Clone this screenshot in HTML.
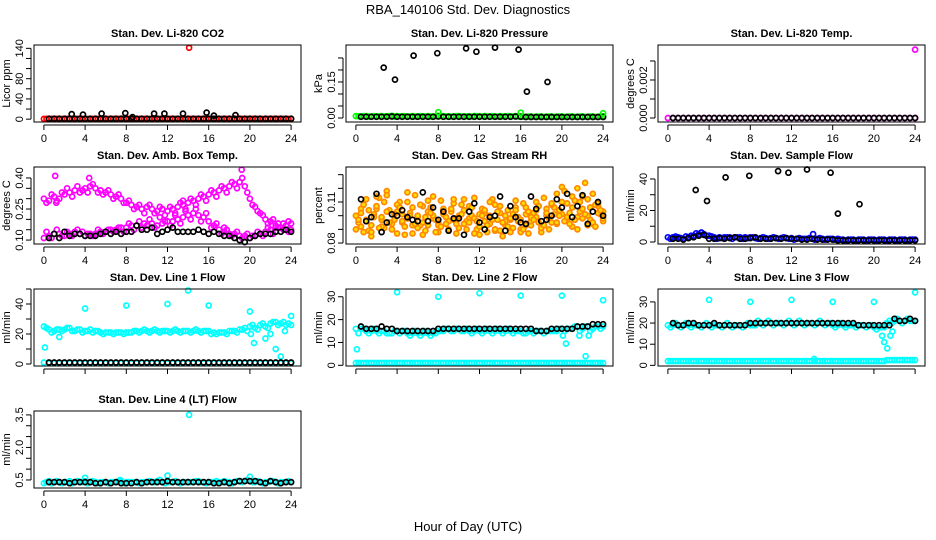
<!DOCTYPE html>
<html><head><meta charset="utf-8">
<style>
html,body{margin:0;padding:0;background:#fff;}
svg{display:block;font-family:"Liberation Sans",Arial,sans-serif;}
</style></head>
<body>
<svg id="chart" width="936" height="540" viewBox="0 0 936 540">
<text x="468" y="14" font-size="13" text-anchor="middle">RBA_140106  Std. Dev. Diagnostics</text>
<text x="468" y="531" font-size="13" text-anchor="middle">Hour of Day (UTC)</text>
</svg>
<script>
// ---- shared hour arrays ----
const hoursA = [0,0.5,1,1.5,2,2.5,3,3.5,4,4.5,5,5.5,6,6.5,7,7.5,8,8.5,9,9.5,10,10.5,11,11.5,12,12.5,13,13.5,14,14.5,15,15.5,16,16.5,17,17.5,18,18.5,19,19.5,20,20.5,21,21.5,22,22.5,23,23.5,24];
const hoursB = [0.25,0.75,1.25,1.75,2.25,2.75,3.25,3.75,4.25,4.75,5.25,5.75,6.25,6.75,7.25,7.75,8.25,8.75,9.25,9.75,10.25,10.75,11.25,11.75,12.25,12.75,13.25,13.75,14.25,14.75,15.25,15.75,16.25,16.75,17.25,17.75,18.25,18.75,19.25,19.75,20.25,20.75,21.25,21.75,22.25,22.75,23.25,23.75];
const hoursK = [0.5,1,1.5,2,2.5,3,3.5,4,4.5,5,5.5,6,6.5,7,7.5,8,8.5,9,9.5,10,10.5,11,11.5,12,12.5,13,13.5,14,14.5,15,15.5,16,16.5,17,17.5,18,18.5,19,19.5,20,20.5,21,21.5,22,22.5,23,23.5,24];
const xTicks = [0,4,8,12,16,20,24];

// ---- CO2 ----
const co2Red = [0.5,0.4,0.6,0.5,0.5,0.7,0.5,0.4,0.6,0.5,0.5,0.6,0.4,0.5,0.5,0.6,0.5,0.5,0.4,0.6,0.5,0.5,0.6,0.5,0.4,0.5,0.6,0.5,0.5,0.4,0.5,0.6,0.5,0.5,0.4,0.6,0.5,0.5,0.5,0.4,0.6,0.5,0.5,0.4,0.5,0.6,0.5,0.5,0.5];
const co2RedB = [0.6,0.5,0.5,0.4,0.6,0.5,0.5,0.5,0.4,0.6,0.5,0.5,0.4,0.5,0.6,0.5,0.5,0.4,0.6,0.5,0.5,0.4,0.5,0.6,0.5,0.5,0.4,0.5,0.5,0.6,0.5,0.4,0.5,0.5,0.6,0.5,0.4,0.5,0.5,0.6,0.5,0.5,0.4,0.5,0.6,0.5,0.5,0.4];
const co2Black = [1,1,1,1,1,1,1,1,1,1,1,1,1,1,1,1,1,1,1,1,1,1,1,1,1,1,1,1,1,1,1,1,1,1,1,1,1,1,1,1,1,1,1,1,1,1,1,1];
const co2SpikeX = [2.7,3.8,5.6,7.9,8.6,10.7,11.7,13.5,15.8,16.5,18.6];
const co2SpikeY = [10,9,11,12,4,11,11,11,13,7,8];
const co2OutX = [14.1];
const co2OutY = [141];

// ---- Pressure ----
const prsGreen = [0.008,0.007,0.008,0.006,0.007,0.008,0.007,0.009,0.008,0.007,0.006,0.008,0.007,0.007,0.008,0.006,0.009,0.008,0.007,0.007,0.008,0.006,0.007,0.008,0.007,0.008,0.007,0.006,0.008,0.007,0.007,0.008,0.006,0.005,0.006,0.005,0.006,0.005,0.006,0.005,0.006,0.005,0.006,0.005,0.006,0.005,0.006,0.005,0.007];
const prsGreenB = [0.007,0.008,0.006,0.008,0.007,0.007,0.008,0.006,0.007,0.008,0.007,0.006,0.008,0.007,0.006,0.007,0.008,0.007,0.006,0.008,0.007,0.007,0.006,0.008,0.007,0.007,0.008,0.006,0.007,0.008,0.007,0.006,0.005,0.006,0.005,0.006,0.005,0.006,0.005,0.006,0.005,0.006,0.005,0.006,0.005,0.006,0.005,0.006];
const prsBlack = [0.005,0.005,0.005,0.005,0.005,0.005,0.006,0.005,0.005,0.005,0.005,0.005,0.005,0.005,0.005,0.006,0.005,0.005,0.005,0.005,0.005,0.005,0.005,0.005,0.005,0.005,0.005,0.005,0.005,0.005,0.006,0.005,0.004,0.004,0.004,0.004,0.004,0.004,0.004,0.004,0.004,0.004,0.004,0.004,0.004,0.004,0.004,0.004];
const prsSpikeX = [2.7,3.8,5.6,7.9,10.7,11.7,13.5,15.8,16.6,18.6];
const prsSpikeY = [0.21,0.16,0.26,0.27,0.29,0.276,0.293,0.285,0.11,0.15];
const prsOutX = [8,16,24];
const prsOutY = [0.024,0.022,0.02];

// ---- Li-820 Temp ----
const tmpMag = [0,0,0,0,0,0,0,0,0,0,0,0,0,0,0,0,0,0,0,0,0,0,0,0,0,0,0,0,0,0,0,0,0,0,0,0,0,0,0,0,0,0,0,0,0,0,0,0,0];
const tmpBlack = [0,0,0,0,0,0,0,0,0,0,0,0,0,0,0,0,0,0,0,0,0,0,0,0,0,0,0,0,0,0,0,0,0,0,0,0,0,0,0,0,0,0,0,0,0,0,0,0];
const tmpOutX = [24];
const tmpOutY = [0.0036];

// ---- Amb Box Temp ----
const ambUpA = [0.30,0.29,0.31,0.30,0.32,0.33,0.34,0.33,0.35,0.36,0.35,0.34,0.33,0.32,0.31,0.30,0.28,0.27,0.26,0.25,0.26,0.25,0.24,0.25,0.24,0.25,0.26,0.27,0.28,0.29,0.30,0.31,0.32,0.33,0.34,0.35,0.36,0.37,0.38,0.36,0.30,0.26,0.23,0.20,0.19,0.17,0.16,0.15,0.15];
const ambUpB = [0.28,0.32,0.29,0.33,0.35,0.31,0.36,0.34,0.33,0.37,0.33,0.32,0.34,0.30,0.32,0.28,0.29,0.25,0.27,0.23,0.27,0.23,0.26,0.22,0.26,0.23,0.28,0.25,0.30,0.27,0.32,0.29,0.34,0.31,0.36,0.33,0.38,0.35,0.40,0.33,0.27,0.24,0.22,0.18,0.20,0.16,0.18,0.14];
const ambLoA = [0.11,0.12,0.13,0.13,0.12,0.13,0.14,0.13,0.12,0.13,0.13,0.14,0.14,0.15,0.15,0.16,0.16,0.17,0.17,0.16,0.17,0.18,0.17,0.18,0.19,0.19,0.20,0.21,0.22,0.23,0.22,0.21,0.19,0.17,0.15,0.14,0.13,0.13,0.12,0.12,0.11,0.12,0.13,0.14,0.15,0.16,0.16,0.17,0.18];
const ambLoB = [0.14,0.11,0.15,0.12,0.14,0.12,0.15,0.14,0.13,0.12,0.15,0.13,0.15,0.14,0.16,0.14,0.18,0.15,0.19,0.18,0.20,0.16,0.21,0.19,0.17,0.22,0.18,0.24,0.20,0.25,0.19,0.23,0.16,0.18,0.13,0.15,0.12,0.14,0.11,0.13,0.12,0.14,0.12,0.16,0.13,0.18,0.15,0.19];
const ambBlack = [0.11,0.13,0.11,0.14,0.12,0.13,0.13,0.12,0.12,0.12,0.13,0.14,0.13,0.14,0.13,0.14,0.14,0.17,0.15,0.15,0.16,0.13,0.14,0.15,0.16,0.14,0.14,0.14,0.14,0.15,0.14,0.13,0.14,0.13,0.12,0.12,0.11,0.10,0.09,0.11,0.12,0.13,0.13,0.13,0.14,0.14,0.15,0.14];
const ambOutX = [1.1,1.2,4.4,13.5,19.2,17.5];
const ambOutY = [0.41,0.28,0.40,0.29,0.44,0.16];

// ---- Gas Stream RH ----
const rhA = [0.100,0.092,0.112,0.085,0.105,0.097,0.118,0.090,0.103,0.095,0.110,0.087,0.099,0.107,0.093,0.114,0.088,0.101,0.096,0.109,0.091,0.104,0.098,0.113,0.086,0.102,0.094,0.108,0.089,0.100,0.097,0.111,0.090,0.106,0.093,0.099,0.088,0.105,0.095,0.116,0.101,0.109,0.092,0.120,0.098,0.112,0.094,0.107,0.103];
const rhB = [0.095,0.108,0.089,0.101,0.113,0.091,0.104,0.097,0.110,0.086,0.102,0.115,0.093,0.099,0.106,0.088,0.111,0.094,0.103,0.087,0.108,0.096,0.100,0.090,0.105,0.093,0.112,0.097,0.085,0.104,0.091,0.099,0.109,0.087,0.102,0.095,0.113,0.090,0.106,0.100,0.118,0.094,0.111,0.103,0.124,0.097,0.108,0.101];
const rhC = [0.105,0.097,0.088,0.114,0.092,0.103,0.090,0.108,0.096,0.117,0.093,0.100,0.086,0.111,0.098,0.095,0.104,0.089,0.112,0.099,0.094,0.107,0.087,0.101,0.096,0.110,0.089,0.102,0.093,0.098,0.106,0.088,0.101,0.096,0.110,0.091,0.100,0.108,0.094,0.121,0.097,0.114,0.099,0.105,0.093,0.116,0.102,0.096];
const rhD = [0.090,0.102,0.096,0.093,0.107,0.099,0.115,0.094,0.087,0.101,0.098,0.106,0.091,0.095,0.103,0.100,0.093,0.105,0.090,0.097,0.100,0.112,0.095,0.098,0.092,0.104,0.100,0.090,0.107,0.096,0.088,0.104,0.097,0.093,0.099,0.104,0.091,0.102,0.109,0.095,0.110,0.099,0.106,0.090,0.114,0.100,0.095,0.109,0.098];
const rhE = [0.097,0.088,0.104,0.099,0.091,0.110,0.095,0.101,0.106,0.092,0.100,0.094,0.108,0.089,0.102,0.097,0.092,0.099,0.105,0.094,0.101,0.090,0.106,0.096,0.100,0.088,0.097,0.103,0.095,0.092,0.101,0.096,0.090,0.103,0.097,0.107,0.093,0.098,0.101,0.104,0.096,0.102,0.097,0.110,0.101,0.106,0.092,0.104];
const rhBlack = [0.112,0.096,0.099,0.116,0.088,0.095,0.101,0.100,0.104,0.099,0.097,0.096,0.117,0.096,0.106,0.097,0.103,0.089,0.098,0.098,0.086,0.103,0.109,0.095,0.090,0.099,0.100,0.114,0.089,0.107,0.099,0.095,0.094,0.114,0.105,0.096,0.097,0.100,0.112,0.106,0.116,0.099,0.107,0.115,0.094,0.103,0.110,0.100];

// ---- Sample Flow ----
const sfBlueA = [3,3,3,2,3,4,5,5,4,3,3,3,3,3,3,3,3,2.5,2.5,2.5,2.5,2.5,2.5,2.5,2.5,2,2,2,2,2,2,2,2,2,1.5,1.5,1.5,1.5,1.5,1.5,1.5,1.5,1.5,1.5,1.5,1.5,1.5,1.5,1.5];
const sfBlueB = [2,3.5,2.5,3.5,4,5.5,6,4,3.5,2,2.5,3,2,3,2,2.5,3,2,3,2,3,2,3,2,1.5,2.5,2,2.5,1.5,2.5,1.5,2,1.5,1.5,1,1.5,1,1.5,1,1.5,1,1.5,1,1.5,1,1.5,1,1.5];
const sfBlack = [2,2,1.5,2.5,3,4,4.5,2,2,2.5,2,2.5,3,2,2,2.5,3,2,2,2,2.5,2,2.5,2,2,1.5,1.5,2,1.5,1.5,1.5,1.5,1,1,1,1,1,1,1,1,1,1,1,1,1,1,1,1];
const sfSpikeX = [2.7,3.8,5.6,7.9,10.7,11.7,13.5,15.8,16.5,18.6];
const sfSpikeY = [33,26,41,42,45,44,46,44,18,24];
const sfOutX = [14.1];
const sfOutY = [5];

// ---- Line 1 Flow ----
const l1A = [25,23,22,23,23,24,22,23,22,23,22,21,21,21,21,21,21,21,22,22,22,22,22,22,22,22,22,22,22,22,22,22,22,21,21,21,22,22,23,24,25,24,26,25,27,28,27,26,26];
const l1B = [24,21,23,22,24,22,23,21,22,21,22,20,21,20,21,20,21,22,21,23,21,23,21,22,21,23,21,22,21,23,21,22,20,20,21,20,22,21,23,22,26,23,27,24,28,26,28,27];
const l1Low = [1,0.5,0.5,0.5,0.5,0.5,0.5,0.5,0.5,0.5,0.5,0.5,0.5,0.5,0.5,0.5,0.5,0.5,0.5,0.5,0.5,0.5,0.5,0.5,0.5,0.5,0.5,0.5,0.5,0.5,0.5,0.5,0.5,0.5,0.5,0.5,0.5,0.5,0.5,0.5,0.5,0.5,0.5,0.5,0.5,0.5,0.5,0.5,0.5];
const l1Black = [1,1,1,1,1,1,1,1,1,1,1,1,1,1,1,1,1,1,1,1,1,1,1,1,1,1,1,1,1,1,1,1,1,1,1,1,1,1,1,1,1,1,1,1,1,1,1,1];
const l1OutX = [0.1,1.5,4,8,12,14,16,20,20.1,20.4,21.5,22,22.5,23,23.4,24];
const l1OutY = [11,18,37,39,40,49,39,35,20,14,17,20,10,5,22,32];

// ---- Line 2 Flow ----
const l2A = [16,16,15,15,15,15,14,14,15,15,14,14,14,14,14,14,15,15,16,15,16,15,15,15,15,15,15,15,15,15,15,15,15,14,15,15,15,15,15,15,16,16,16,17,16,17,16,17,17];
const l2B = [14,16,14,16,14,15,14,15,14,15,13,15,13,15,13,14,15,16,15,16,15,16,14,16,14,16,14,16,14,16,14,15,14,15,14,15,14,15,15,16,15,16,17,15,17,15,17,16];
const l2Low = [1,1,1,1,1,1,1,1,1,1,1,1,1,1,1,1,1,1,1,1,1,1,1,1,1,1,1,1,1,1,1,1,1,1,1,1,1,1,1,1,1,1,1,1,1,1,1,1,1];
const l2LowB = [1,1,1,1,1,1,1,1,1,1,1,1,1,1,1,1,1,1,1,1,1,1,1,1,1,1,1,1,1,1,1,1,1,1,1,1,1,1,1,1,1,1,1,1,1,1,1,1];
const l2Black = [17,16,16,16,17,16,16,15,15,15,15,15,15,15,15,16,16,16,16,16,16,16,16,16,16,16,16,16,16,16,16,16,16,16,15,15,15,16,16,16,16,16,17,17,17,18,18,18];
const l2OutX = [0.1,4,8,12,16,20,20.1,20.4,21.7,22.3,22.6,24];
const l2OutY = [7,32,30,31.5,30.5,30.5,13,9.5,13,4,13,28.5];

// ---- Line 3 Flow ----
const l3A = [19,19,19,19,19,19,19,19,19,19,19,19,19,19,19,19,19,19,20,20,20,20,20,20,20,20,20,20,20,20,20,20,19,19,19,19,19,19,19,19,18,18,18,21,21,21,21,21,21];
const l3B = [18,20,18,20,18,19,18,20,18,19,18,20,18,19,18,20,19,21,19,21,19,20,19,21,19,21,19,20,19,21,19,20,18,20,18,19,18,19,18,19,17,18,20,20,22,20,22,21];
const l3Low = [2,2,2,2,2,2,2,2,2,2,2,2,2,2,2,2,2,2,2,2,2,2,2,2,2,2,2,2,2,2,2,2,2,2,2,2,2,2,2,2,2,2,2,2.5,2.5,2.5,2.5,2.5,2.5];
const l3LowB = [2,2,2,2,2,2,2,2,2,2,2,2,2,2,2,2,2,2,2,2,2,2,2,2,2,2,2,2,2,2,2,2,2,2,2,2,2,2,2,2,2,2,2.5,2.5,2.5,2.5,2.5,2.5];
const l3Black = [20,19,19,20,20,19,19,19,20,19,19,19,19,19,19,20,20,20,20,20,20,20,20,20,20,20,20,20,20,20,20,20,20,20,20,20,19,19,19,19,19,19,19,22,21,21,22,21];
const l3OutX = [4,8,12,16,20,24,14.2,20.8,21,21.3,21.6,21.8];
const l3OutY = [31,30,31,30,30,34.5,3,14,11,8,14,16];

// ---- Line 4 Flow ----
const l4A = [0.35,0.45,0.4,0.4,0.4,0.45,0.4,0.4,0.45,0.4,0.4,0.4,0.4,0.4,0.4,0.45,0.4,0.4,0.4,0.4,0.4,0.4,0.45,0.4,0.4,0.4,0.4,0.4,0.4,0.4,0.45,0.4,0.4,0.4,0.4,0.45,0.4,0.4,0.45,0.45,0.45,0.4,0.4,0.4,0.45,0.4,0.4,0.4,0.4];
const l4B = [0.4,0.35,0.45,0.35,0.4,0.35,0.45,0.4,0.35,0.45,0.35,0.4,0.35,0.4,0.45,0.35,0.4,0.4,0.35,0.4,0.45,0.4,0.5,0.35,0.4,0.45,0.35,0.4,0.4,0.45,0.4,0.35,0.4,0.45,0.4,0.4,0.35,0.45,0.4,0.5,0.4,0.45,0.35,0.4,0.45,0.35,0.4,0.45];
const l4Black = [0.4,0.4,0.4,0.4,0.35,0.4,0.4,0.4,0.4,0.35,0.35,0.4,0.35,0.4,0.35,0.35,0.35,0.4,0.35,0.4,0.4,0.4,0.4,0.45,0.4,0.4,0.4,0.4,0.4,0.4,0.4,0.4,0.35,0.35,0.4,0.35,0.4,0.45,0.45,0.45,0.45,0.4,0.35,0.45,0.4,0.35,0.4,0.4];
const l4OutX = [14.1,12,20,4,7.4];
const l4OutY = [3.5,0.7,0.65,0.6,0.5];

// ---------- rendering ----------
const NS = 'http://www.w3.org/2000/svg';
const svg = document.getElementById('chart');
const BOX_W = 267, BOX_H = 77;
const XMIN = -0.96, XMAX = 24.96;

function mk(tag, attrs, parent){
  const e = document.createElementNS(NS, tag);
  for (const k in attrs) e.setAttribute(k, attrs[k]);
  (parent || svg).appendChild(e);
  return e;
}

function panel(cfg){
  const g = mk('g', {});
  
  
  const L = cfg.left, T = cfg.top;
  const sx = v => L + (v - XMIN) / (XMAX - XMIN) * BOX_W;
  const sy = v => T + BOX_H - (v - cfg.ylim[0]) / (cfg.ylim[1] - cfg.ylim[0]) * BOX_H;

  const t = mk('text', {x: L + BOX_W/2, y: T - 8, 'font-size': 11, 'font-weight': 'bold', 'text-anchor': 'middle'}, g);
  t.textContent = cfg.title;
  
  

  const yl = mk('text', {x: 0, y: 0, 'font-size': 11, 'text-anchor': 'middle', transform: `translate(${L-24},${T+BOX_H/2}) rotate(-90)`}, g);
  yl.textContent = cfg.ylab;
  
  

  cfg.series.forEach(s => {
    const sg = mk('g', {fill: s.fill || 'none', stroke: s.color, 'stroke-width': 1.7}, g);
    
    
    s.x.forEach((xv, i) => {
      const c = mk('circle', {cx: sx(xv).toFixed(1), cy: sy(s.y[i]).toFixed(1), r: 2.5}, sg);
      
      
    });
  });

  const box = mk('rect', {x: L, y: T, width: BOX_W, height: BOX_H, fill: 'none', stroke: '#000', 'stroke-width': 1}, g);
  
  

  const xa = mk('g', {}, g);
  
  
  const xb = T + BOX_H;
  mk('line', {x1: sx(xTicks[0]), x2: sx(xTicks[xTicks.length-1]), y1: xb + 3, y2: xb + 3, stroke: '#000'}, xa);
  xTicks.forEach(v => {
    mk('line', {x1: sx(v), x2: sx(v), y1: xb + 3, y2: xb + 8, stroke: '#000'}, xa);
    if (cfg.xlabels) {
      const tl = mk('text', {x: sx(v), y: xb + 20, 'font-size': 11, 'text-anchor': 'middle'}, xa);
      tl.textContent = v;
      
      
    }
  });
  const ya = mk('g', {}, g);
  
  
  mk('line', {x1: L - 3, x2: L - 3, y1: sy(cfg.yticks[0]), y2: sy(cfg.yticks[cfg.yticks.length-1]), stroke: '#000'}, ya);
  cfg.yticks.forEach(v => {
    mk('line', {x1: L - 8, x2: L - 3, y1: sy(v), y2: sy(v), stroke: '#000'}, ya);
  });
  cfg.ylabels.forEach((lab, i) => {
    const yy = sy(cfg.ylabelVals[i]);
    const tl = mk('text', {x: 0, y: 0, 'font-size': 11, 'text-anchor': 'middle', transform: `translate(${L-11},${yy}) rotate(-90)`}, ya);
    tl.textContent = lab;
    
    
  });
}

const C1 = 34, C2 = 346, C3 = 658;
const R1 = 45, R2 = 167, R3 = 289, R4 = 411;
const BLK = '#000', CY = '#00ffff';

panel({name:'panel-co2', left:C1, top:R1, title:'Stan. Dev. Li-820 CO2', ylab:'Licor ppm', ylim:[-5.6,146.6],
  yticks:[0,20,40,60,80,100,120,140], ylabels:['0','40','80','140'], ylabelVals:[0,40,80,140], xlabels:true,
  series:[
    {name:'co2-red', x:hoursA, y:co2Red, color:'#ff0000'},
    {name:'co2-red-b', x:hoursB, y:co2RedB, color:'#ff0000'},
    {name:'co2-black', x:hoursK, y:co2Black, color:BLK},
    {name:'co2-black-spikes', x:co2SpikeX, y:co2SpikeY, color:BLK},
    {name:'co2-red-outlier', x:co2OutX, y:co2OutY, color:'#ff0000'}]});

panel({name:'panel-pressure', left:C2, top:R1, title:'Stan. Dev. Li-820 Pressure', ylab:'kPa', ylim:[-0.0167,0.304],
  yticks:[0,0.05,0.10,0.15,0.20,0.25], ylabels:['0.00','0.15'], ylabelVals:[0,0.15], xlabels:true,
  series:[
    {name:'pressure-green', x:hoursA, y:prsGreen, color:'#00ff00'},
    {name:'pressure-green-b', x:hoursB, y:prsGreenB, color:'#00ff00'},
    {name:'pressure-black', x:hoursK, y:prsBlack, color:BLK},
    {name:'pressure-green-outliers', x:prsOutX, y:prsOutY, color:'#00ff00'},
    {name:'pressure-black-spikes', x:prsSpikeX, y:prsSpikeY, color:BLK}]});

panel({name:'panel-li820-temp', left:C3, top:R1, title:'Stan. Dev. Li-820 Temp.', ylab:'degrees C', ylim:[-0.00021,0.00384],
  yticks:[0,0.001,0.002,0.003], ylabels:['0.000','0.002'], ylabelVals:[0,0.002], xlabels:true,
  series:[
    {name:'temp-magenta', x:hoursA, y:tmpMag, color:'#ff00ff'},
    {name:'temp-black', x:hoursK, y:tmpBlack, color:BLK},
    {name:'temp-magenta-outlier', x:tmpOutX, y:tmpOutY, color:'#ff00ff'}]});

panel({name:'panel-amb-box-temp', left:C1, top:R2, title:'Stan. Dev. Amb. Box Temp.', ylab:'degrees C', ylim:[0.081,0.453],
  yticks:[0.10,0.15,0.20,0.25,0.30,0.35,0.40], ylabels:['0.10','0.25','0.40'], ylabelVals:[0.10,0.25,0.40], xlabels:true,
  series:[
    {name:'amb-upper-a', x:hoursA, y:ambUpA, color:'#ff00ff'},
    {name:'amb-upper-b', x:hoursB, y:ambUpB, color:'#ff00ff'},
    {name:'amb-lower-a', x:hoursA, y:ambLoA, color:'#ff00ff'},
    {name:'amb-lower-b', x:hoursB, y:ambLoB, color:'#ff00ff'},
    {name:'amb-outliers', x:ambOutX, y:ambOutY, color:'#ff00ff'},
    {name:'amb-black', x:hoursK, y:ambBlack, color:BLK}]});

panel({name:'panel-gas-stream-rh', left:C2, top:R2, title:'Stan. Dev. Gas Stream RH', ylab:'percent', ylim:[0.0793,0.1356],
  yticks:[0.08,0.09,0.10,0.11,0.12,0.13], ylabels:['0.08','0.11'], ylabelVals:[0.08,0.11], xlabels:true,
  series:[
    {name:'rh-a', x:hoursA, y:rhA, color:'#ff8800', fill:'#ffdd00'},
    {name:'rh-b', x:hoursB, y:rhB, color:'#ff8800', fill:'#ffdd00'},
    {name:'rh-c', x:hoursK, y:rhC, color:'#ff8800', fill:'#ffdd00'},
    {name:'rh-d', x:hoursA, y:rhD, color:'#ff8800', fill:'#ffdd00'},
    {name:'rh-e', x:hoursB, y:rhE, color:'#ff8800', fill:'#ffdd00'},
    {name:'rh-black', x:hoursK, y:rhBlack, color:BLK}]});

panel({name:'panel-sample-flow', left:C3, top:R2, title:'Stan. Dev. Sample Flow', ylab:'ml/min', ylim:[-1.27,47.6],
  yticks:[0,10,20,30,40], ylabels:['0','20','40'], ylabelVals:[0,20,40], xlabels:true,
  series:[
    {name:'sample-blue-a', x:hoursA, y:sfBlueA, color:'#0000ff'},
    {name:'sample-blue-b', x:hoursB, y:sfBlueB, color:'#0000ff'},
    {name:'sample-blue-outlier', x:sfOutX, y:sfOutY, color:'#0000ff'},
    {name:'sample-black', x:hoursK, y:sfBlack, color:BLK},
    {name:'sample-black-spikes', x:sfSpikeX, y:sfSpikeY, color:BLK}]});

panel({name:'panel-line1-flow', left:C1, top:R3, title:'Stan. Dev. Line 1 Flow', ylab:'ml/min', ylim:[-1.33,50],
  yticks:[0,10,20,30,40,50], ylabels:['0','20','40'], ylabelVals:[0,20,40], xlabels:false,
  series:[
    {name:'line1-cyan-a', x:hoursA, y:l1A, color:CY},
    {name:'line1-cyan-b', x:hoursB, y:l1B, color:CY},
    {name:'line1-cyan-low', x:hoursA, y:l1Low, color:CY},
    {name:'line1-cyan-outliers', x:l1OutX, y:l1OutY, color:CY},
    {name:'line1-black', x:hoursK, y:l1Black, color:BLK}]});

panel({name:'panel-line2-flow', left:C2, top:R3, title:'Stan. Dev. Line 2 Flow', ylab:'ml/min', ylim:[-0.3,33.4],
  yticks:[0,10,20,30], ylabels:['0','10','20','30'], ylabelVals:[0,10,20,30], xlabels:false,
  series:[
    {name:'line2-cyan-a', x:hoursA, y:l2A, color:CY},
    {name:'line2-cyan-b', x:hoursB, y:l2B, color:CY},
    {name:'line2-cyan-low', x:hoursA, y:l2Low, color:CY},
    {name:'line2-cyan-low-b', x:hoursB, y:l2LowB, color:CY},
    {name:'line2-cyan-outliers', x:l2OutX, y:l2OutY, color:CY},
    {name:'line2-black', x:hoursK, y:l2Black, color:BLK}]});

panel({name:'panel-line3-flow', left:C3, top:R3, title:'Stan. Dev. Line 3 Flow', ylab:'ml/min', ylim:[-0.3,36.1],
  yticks:[0,10,20,30], ylabels:['0','10','20','30'], ylabelVals:[0,10,20,30], xlabels:false,
  series:[
    {name:'line3-cyan-a', x:hoursA, y:l3A, color:CY},
    {name:'line3-cyan-b', x:hoursB, y:l3B, color:CY},
    {name:'line3-cyan-low', x:hoursA, y:l3Low, color:CY},
    {name:'line3-cyan-low-b', x:hoursB, y:l3LowB, color:CY},
    {name:'line3-cyan-outliers', x:l3OutX, y:l3OutY, color:CY},
    {name:'line3-black', x:hoursK, y:l3Black, color:BLK}]});

panel({name:'panel-line4-flow', left:C1, top:R4, title:'Stan. Dev. Line 4 (LT) Flow', ylab:'ml/min', ylim:[0.13,3.68],
  yticks:[0.5,1.0,1.5,2.0,2.5,3.0,3.5], ylabels:['0.5','2.0','3.5'], ylabelVals:[0.5,2.0,3.5], xlabels:true,
  series:[
    {name:'line4-cyan-a', x:hoursA, y:l4A, color:CY},
    {name:'line4-cyan-b', x:hoursB, y:l4B, color:CY},
    {name:'line4-cyan-outliers', x:l4OutX, y:l4OutY, color:CY},
    {name:'line4-black', x:hoursK, y:l4Black, color:BLK}]});
</script>
</body></html>
